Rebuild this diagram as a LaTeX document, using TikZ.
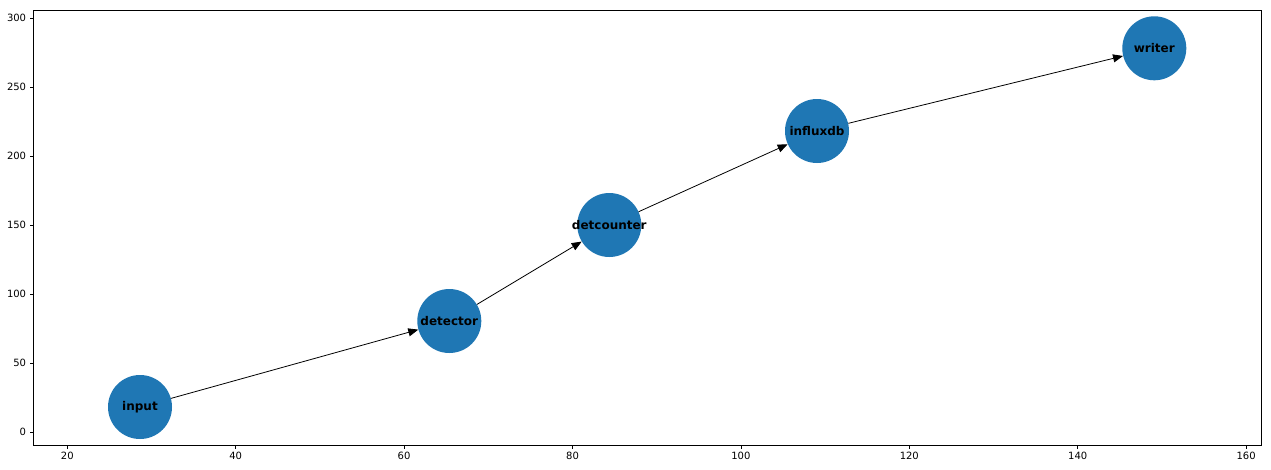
\documentclass[tikz,border=0pt]{standalone}
\usepackage{fontspec}
\setmainfont{DejaVu Sans}
\usetikzlibrary{arrows.meta}
\definecolor{nodeblue}{HTML}{1F77B4}
\tikzset{
  vert/.style={circle, fill=nodeblue, draw=none, minimum size=64pt, inner sep=0pt},
  vlabel/.style={font=\fontsize{12}{14}\selectfont\bfseries, text=black, inner sep=0pt},
  conn/.style={draw=black, line width=0.8pt, -{Triangle[length=10pt,width=8pt]}},
  spine/.style={draw=black, line width=0.8pt},
  tick/.style={draw=black, line width=0.8pt},
  ticklabel/.style={font=\fontsize{10}{12}\selectfont, inner sep=0pt}
}
\begin{document}
\begin{tikzpicture}[x=1pt,y=-1pt]
\useasboundingbox (0,0) rectangle (1271,469);
\fill[white] (0,0) rectangle (1271,469);
% axes
\draw[spine] (33.3,10.5) rectangle (1261.7,445);
% x ticks: 20 -> 67.3, 8.42 px/unit
\foreach \v in {20,40,...,160}{
  \pgfmathsetmacro{\px}{67.3+(\v-20)*8.42}
  \draw[tick] (\px,445) -- (\px,448.5);
  \node[ticklabel, anchor=north] (xt\v) at (\px,452) {\v};
}
% y ticks: 0 -> 432.3, 1.38 px/unit
\foreach \v in {0,50,...,300}{
  \pgfmathsetmacro{\py}{432.3-\v*1.38}
  \draw[tick] (33.3,\py) -- (29.8,\py);
  \node[ticklabel, anchor=east] (yt\v) at (26.3,\py) {\v};
}
% nodes
\node[vert] (input) at (140,407) {};
\node[vert] (detector) at (449.3,321) {};
\node[vert] (detcounter) at (609.3,225) {};
\node[vert] (influxdb) at (817,131) {};
\node[vert] (writer) at (1154.3,48.3) {};
\node[vlabel] (linput) at (input.center) {input};
\node[vlabel] (ldetector) at (detector.center) {detector};
\node[vlabel] (ldetcounter) at (detcounter.center) {detcounter};
\node[vlabel] (linfluxdb) at (influxdb.center) {influxdb};
\node[vlabel] (lwriter) at (writer.center) {writer};
% edges
\draw[conn] (input) -- (detector);
\draw[conn] (detector) -- (detcounter);
\draw[conn] (detcounter) -- (influxdb);
\draw[conn] (influxdb) -- (writer);
\end{tikzpicture}
\end{document}
